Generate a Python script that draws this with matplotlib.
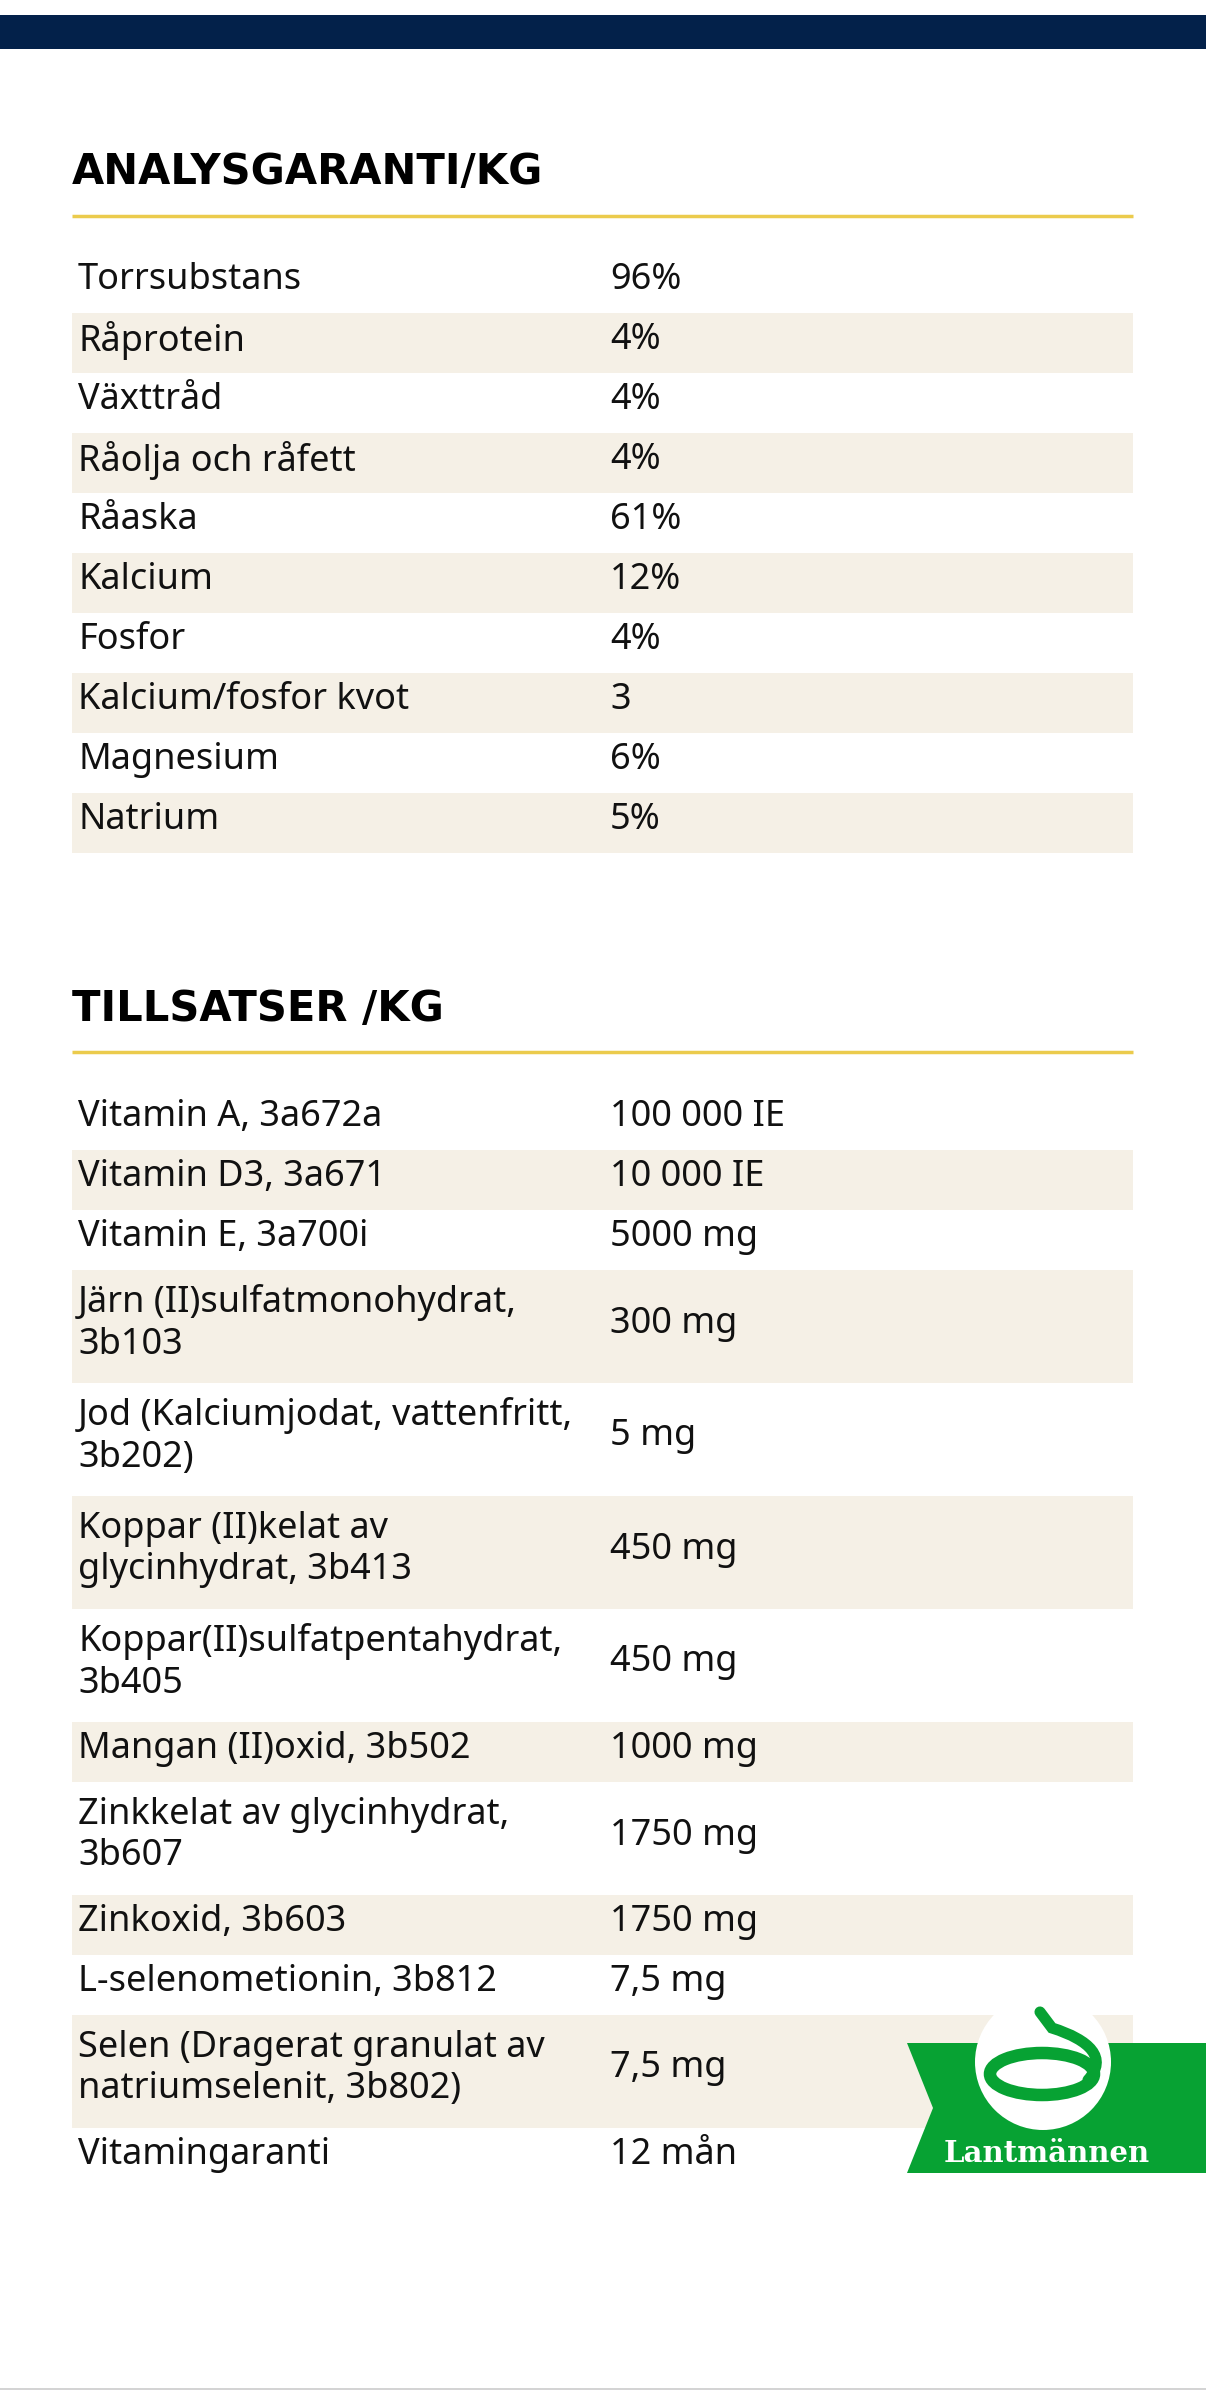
import matplotlib
matplotlib.use("Agg")
import matplotlib.pyplot as plt
from matplotlib.patches import Rectangle, Polygon, Circle, Ellipse, PathPatch
from matplotlib.path import Path

W, H = 1206, 2391

NAVY = "#03214a"
YELLOW = "#ebcb4c"
STRIPE = "#f5f0e6"
GREEN = "#07a233"

analys_title = "ANALYSGARANTI/KG"
analys_names = ["Torrsubstans", "Råprotein", "Växttråd", "Råolja och råfett", "Råaska",
                "Kalcium", "Fosfor", "Kalcium/fosfor kvot", "Magnesium", "Natrium"]
analys_values = ["96%", "4%", "4%", "4%", "61%", "12%", "4%", "3", "6%", "5%"]

tills_title = "TILLSATSER /KG"
tills_names = [
    "Vitamin A, 3a672a", "Vitamin D3, 3a671", "Vitamin E, 3a700i",
    "Järn (II)sulfatmonohydrat,\n3b103", "Jod (Kalciumjodat, vattenfritt,\n3b202)",
    "Koppar (II)kelat av\nglycinhydrat, 3b413", "Koppar(II)sulfatpentahydrat,\n3b405",
    "Mangan (II)oxid, 3b502", "Zinkkelat av glycinhydrat,\n3b607", "Zinkoxid, 3b603",
    "L-selenometionin, 3b812", "Selen (Dragerat granulat av\nnatriumselenit, 3b802)",
    "Vitamingaranti",
]
tills_values = ["100 000 IE", "10 000 IE", "5000 mg", "300 mg", "5 mg", "450 mg", "450 mg",
                "1000 mg", "1750 mg", "1750 mg", "7,5 mg", "7,5 mg", "12 mån"]

FONT = "Noto Sans"
X0, X1 = 72, 1133
XNAME, XVAL = 78, 610

fig = plt.figure(figsize=(W / 100, H / 100), dpi=100)
ax = fig.add_axes([0, 0, 1, 1])
ax.set_xlim(0, W)
ax.set_ylim(H, 0)
ax.axis("off")

ax.add_patch(Rectangle((0, 15), W, 34, color=NAVY, lw=0))
ax.plot([0, W], [2389, 2389], color="#cccccc", lw=1.2)


def section(title, title_y, line_y, top, names, values):
    ax.text(X0, title_y, title, fontsize=30, fontweight="heavy", family="DejaVu Sans",
            va="center", ha="left", color="black", fontstretch="expanded")
    ax.plot([X0, X1], [line_y, line_y], color=YELLOW, lw=2.5, solid_capstyle="butt")
    y = top
    for i, (n, v) in enumerate(zip(names, values)):
        h = 113 if "\n" in n else 60
        if i % 2 == 1:
            ax.add_patch(Rectangle((X0, y), X1 - X0, h, color=STRIPE, lw=0))
        ax.text(XNAME, y + h / 2 - 3, n, fontsize=26, family=FONT, va="center",
                ha="left", linespacing=1.2, color="#111111")
        ax.text(XVAL, y + h / 2 - 3, v, fontsize=26, family=FONT, va="center",
                ha="left", color="#111111")
        y += h


section(analys_title, 172, 216, 253, analys_names, analys_values)
section(tills_title, 1009, 1052, 1090, tills_names, tills_values)

# Lantmännen logo
ax.add_patch(Polygon([(907, 2043), (W, 2043), (W, 2173), (907, 2173), (933, 2108)],
                     closed=True, color=GREEN, lw=0))
ax.add_patch(Circle((1043, 2062), 68, color="white", lw=0))
ax.add_patch(Ellipse((1042, 2074), 104, 42, fill=False, ec=GREEN, lw=9))
hook = Path([(1088, 2080), (1108, 2058), (1090, 2040), (1052, 2028), (1040, 2012)],
            [Path.MOVETO, Path.CURVE4, Path.CURVE4, Path.CURVE4, Path.LINETO])
ax.add_patch(PathPatch(hook, fill=False, ec=GREEN, lw=8, capstyle="round"))
ax.text(1047, 2153, "Lantmännen", fontsize=21, fontweight="bold", family="DejaVu Serif",
        color="white", ha="center", va="center")

fig.savefig("out.png", dpi=100, facecolor="white")
